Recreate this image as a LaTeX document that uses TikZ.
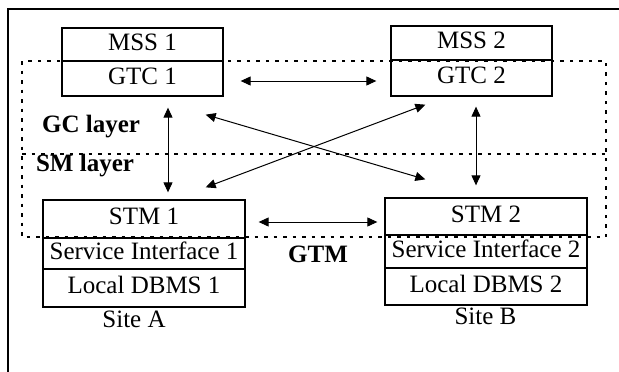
\documentclass[tikz,border=0pt]{standalone}
\usepackage{fontspec}
\setmainfont{Liberation Serif}
\usetikzlibrary{arrows.meta,calc}
\begin{document}
\begin{tikzpicture}[x=1pt,y=-1pt,
  every node/.style={font=\fontsize{25}{29}\selectfont},
  part/.style={draw,line width=1.3pt,inner sep=0pt,text height=16.5pt,text depth=5pt},
  lbl/.style={inner sep=0pt,anchor=base,font=\fontsize{25}{29}\selectfont\bfseries},
  plain/.style={inner sep=0pt,anchor=base},
  biarrow/.style={line width=1pt,{Triangle[length=10pt,width=9pt]}-{Triangle[length=10pt,width=9pt]}},
  layer/.style={line width=1.6pt,dash pattern=on 3.5pt off 6pt}]
\useasboundingbox (0,0) rectangle (619,372);
\fill[white] (0,0) rectangle (619,372);
% outer frame
\draw[line width=2pt] (8,372) -- (8,9) -- (619,9);
% global transaction managers
\node[part,minimum width=161pt,minimum height=33pt] (mss1) at (142.5,44.5) {MSS 1};
\node[part,minimum width=161pt,minimum height=35pt] (gtc1) at (142.5,78.5) {GTC 1};
\node[part,minimum width=161pt,minimum height=34pt] (mss2) at (471.5,43) {MSS 2};
\node[part,minimum width=161pt,minimum height=36pt] (gtc2) at (471.5,78) {GTC 2};
% sites
\node[part,minimum width=202pt,minimum height=38pt] (stm1) at (144,219) {STM 1};
\node[part,minimum width=202pt,minimum height=31pt] (si1) at (144,253.5) {Service Interface 1};
\node[part,minimum width=202pt,minimum height=38pt] (db1) at (144,288) {Local DBMS 1};
\node[part,minimum width=202pt,minimum height=37pt] (stm2) at (486,216.5) {STM 2};
\node[part,minimum width=202pt,minimum height=33pt] (si2) at (486,251.5) {Service Interface 2};
\node[part,minimum width=202pt,minimum height=37pt] (db2) at (486,286.5) {Local DBMS 2};
\node[plain] (sitea) at (134,327) {Site A};
\node[plain] (siteb) at (485.5,324) {Site B};
% layers
\draw[layer] (22,61) rectangle (606,237);
\draw[layer] (22,154) -- (606,154);
\node[lbl] (gc) at (91,132) {GC layer};
\node[lbl] (sm) at (85,171) {SM layer};
\node[lbl] (gtm) at (318,262) {GTM};
% arrows
\draw[biarrow,shorten <=17pt,shorten >=14pt] ([yshift=-2.5pt]gtc1.east) -- ([yshift=-3pt]gtc2.west);
\draw[biarrow,shorten <=11pt,shorten >=7pt] ([xshift=25.5pt]gtc1.south) -- ([xshift=24pt]stm1.north);
\draw[biarrow,shorten <=10pt,shorten >=12pt] ([xshift=4.5pt]gtc2.south) -- ([xshift=-10pt]stm2.north);
\draw[biarrow] ($(gtc1.south east)+(-18,18)$) -- ($(stm2.north west)+(41,-18)$);
\draw[biarrow] ($(stm1.north east)+(-40,-12)$) -- ($(gtc2.south west)+(35,8)$);
\draw[biarrow,shorten <=13pt,shorten >=7pt] ([yshift=-3pt]stm1.east) -- ([yshift=-5.5pt]stm2.west);
\end{tikzpicture}
\end{document}
